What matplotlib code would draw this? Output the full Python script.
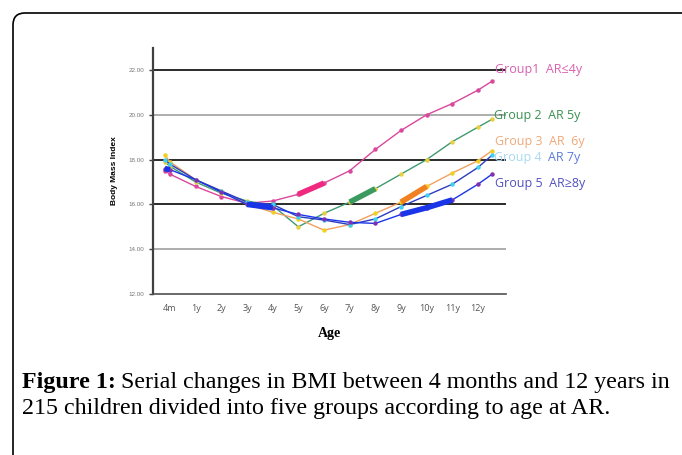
import matplotlib
matplotlib.use('Agg')
import matplotlib.pyplot as plt
from matplotlib.patches import FancyBboxPatch
from matplotlib.transforms import IdentityTransform

# age positions (tick index space: 0 = 4m, 1 = 1y ... 12 = 12y)
age_pos = [-0.2, 0, 1, 2, 3, 4, 5, 6, 7, 8, 9, 10, 11, 12, 12.55]
age_labels = ['4m', '1y', '2y', '3y', '4y', '5y', '6y', '7y', '8y', '9y', '10y', '11y', '12y']

bmi_g1 = [17.5, 17.35, 16.8, 16.35, 16.05, 16.15, 16.45, 16.95, 17.5, 18.45, 19.3, 20.0, 20.5, 21.1, 21.5]
bmi_g2 = [17.9, 17.7, 17.0, 16.5, 16.15, 15.95, 15.0, 15.6, 16.1, 16.7, 17.35, 18.0, 18.8, 19.45, 19.8]
bmi_g3 = [18.2, 17.9, 17.1, 16.6, 16.0, 15.65, 15.35, 14.85, 15.1, 15.6, 16.1, 16.8, 17.4, 17.95, 18.4]
bmi_g4 = [18.0, 17.8, 17.1, 16.6, 16.1, 16.0, 15.45, 15.3, 15.1, 15.35, 15.9, 16.4, 16.9, 17.65, 18.2]
bmi_g5 = [17.6, 17.55, 17.1, 16.55, 16.0, 15.85, 15.55, 15.35, 15.2, 15.15, 15.55, 15.85, 16.2, 16.9, 17.35]

group_names = ['Group1  AR\u22644y', 'Group 2  AR 5y', 'Group 3  AR  6y', 'Group 4  AR 7y', 'Group 5  AR\u22658y']

W, H = 682, 455
fig = plt.figure(figsize=(W / 100, H / 100), dpi=100)
fig.patch.set_facecolor('white')

# rounded frame around the figure panel
frame = FancyBboxPatch((13, -40), W + 40, H - 13 + 40,
                       boxstyle='round,pad=0,rounding_size=12',
                       transform=IdentityTransform(), facecolor='none',
                       edgecolor='black', linewidth=1.2)
fig.add_artist(frame)

ax = fig.add_axes([153 / W, 1 - 294 / H, (506 - 153) / W, (294 - 48) / H])
ax.set_xlim(-0.66, 13.09)
ax.set_ylim(12, 22.98)

for v, c, lw in [(22, '#1a1a1a', 1.3), (20, '#a0a0a0', 1.2), (18, '#1a1a1a', 1.3),
                 (16, '#1a1a1a', 1.3), (14, '#a0a0a0', 1.2)]:
    ax.axhline(v, color=c, lw=lw, zorder=1)

for s in ['top', 'right']:
    ax.spines[s].set_visible(False)
ax.spines['left'].set_color('#404040')
ax.spines['left'].set_linewidth(1.6)
ax.spines['bottom'].set_color('#505050')
ax.spines['bottom'].set_linewidth(1.2)

# (values, line colour, marker colour, thick-segment colour, thick segments as point index ranges)
series = [
    (bmi_g1, '#d9489c', '#d9489c', '#f0287f', [(6, 7)]),
    (bmi_g2, '#3f9a70', '#e8d040', '#3a9a60', [(8, 9)]),
    (bmi_g3, '#f0a060', '#f0d020', '#f08020', [(10, 11)]),
    (bmi_g4, '#2b3cc0', '#40d0f0', '#1a35e8', []),
    (bmi_g5, '#1a35e8', '#8030b0', '#1a35e8', [(0, 1), (4, 5), (10, 12)]),
]
for vals, lc, mc, tc, thick in series:
    ax.plot(age_pos, vals, color=lc, lw=1.0, marker='o', ms=2.2,
            mfc=mc, mec=mc, zorder=3)
    for a, b in thick:
        ax.plot(age_pos[a:b + 1], vals[a:b + 1], color=tc, lw=4,
                solid_capstyle='butt', zorder=4)

ax.set_xticks(range(len(age_labels)))
ax.set_xticklabels(age_labels, fontsize=6.5, color='#555555', family=['Open Sans', 'DejaVu Sans'])
ax.tick_params(axis='x', length=0, pad=7)
ax.set_yticks([12, 14, 16, 18, 20, 22])
ax.set_yticklabels(['12.00', '14.00', '16.00', '18.00', '20.00', '22.00'],
                   fontsize=4.5, color='#777777', family=['Liberation Sans Narrow', 'Liberation Sans'])
ax.tick_params(axis='y', length=3, width=1, color='#404040', pad=3)

ax.set_ylabel('Body Mass Index', fontsize=6, fontweight='bold', family='Liberation Sans', labelpad=8)
ax.set_xlabel('Age', fontsize=10, fontweight='bold', family='Liberation Serif', labelpad=10)

# group labels at the right
lab_kw = dict(fontsize=9, family=['Open Sans', 'DejaVu Sans'], va='center', ha='left')
fig.text(495 / W, 1 - 70 / H, group_names[0], color='#d860b0', **lab_kw)
fig.text(494 / W, 1 - 116 / H, group_names[1], color='#3a9050', **lab_kw)
fig.text(495 / W, 1 - 142 / H, group_names[2], color='#f0a878', **lab_kw)
t4 = fig.text(494 / W, 1 - 158 / H, 'Group 4  ', color='#a8d8f0', **lab_kw)
fig.text(495 / W, 1 - 183 / H, group_names[4], color='#5050c0', **lab_kw)

renderer = fig.canvas.get_renderer()
bb = t4.get_window_extent(renderer)
fig.text(bb.x1 / W, 1 - 158 / H, 'AR 7y', color='#5a7ad8', **lab_kw)

# caption
cap_kw = dict(fontsize=17.3, family='Liberation Serif', va='baseline', ha='left')
t_bold = fig.text(22 / W, 1 - 388 / H, 'Figure 1:', fontweight='bold', **cap_kw)
bb = t_bold.get_window_extent(renderer)
fig.text(bb.x1 / W + 0.007, 1 - 388 / H,
         'Serial changes in BMI between 4 months and 12 years in', **cap_kw)
fig.text(22 / W, 1 - 414 / H,
         '215 children divided into five groups according to age at AR.', **cap_kw)

fig.savefig('out.png', dpi=100)
